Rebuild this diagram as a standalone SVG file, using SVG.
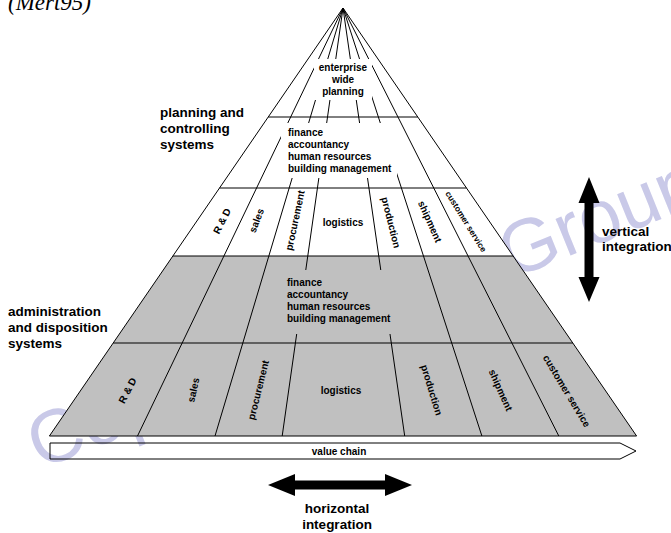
<svg xmlns="http://www.w3.org/2000/svg" width="671" height="533" viewBox="0 0 671 533">
<style>
.t{font-family:"Liberation Sans",Arial,sans-serif;font-weight:bold;fill:#000}
.f10{font-size:10px}
.f85{font-size:8.5px}
.big{font-size:13.5px}
.lbl{text-anchor:middle;dominant-baseline:central}
.ln{stroke:#000;stroke-width:1;fill:none}
.wm{font-family:"Liberation Sans",Arial,sans-serif;font-size:75px;fill:#c9c9e8}
</style>
<text class="wm" transform="translate(40,470) rotate(-22)">Copyright Idea Group Inc.</text>
<text x="8" y="10" style="font-family:'Liberation Serif','Times New Roman',serif;font-style:italic;font-size:23px">(Mert95)</text>

<g id="pyramid-fills">
<polygon points="343,8 172.9,256 513.1,256" fill="#fff"/>
<polygon points="172.9,256 513.1,256 636.6,436 49.4,436" fill="#c0c0c0"/>
</g>

<g id="connectors" class="ln">
<line x1="343" y1="8" x2="137.5" y2="436"/>
<line x1="343" y1="8" x2="215" y2="436"/>
<line x1="343" y1="8" x2="282.2" y2="436"/>
<line x1="343" y1="8" x2="404.7" y2="436"/>
<line x1="343" y1="8" x2="481.9" y2="436"/>
<line x1="343" y1="8" x2="558.8" y2="436"/>
<line x1="268.2" y1="117" x2="417.8" y2="117"/>
<line x1="219.5" y1="188" x2="466.5" y2="188"/>
<line x1="172.9" y1="256" x2="513.1" y2="256"/>
<line x1="113.2" y1="343" x2="572.8" y2="343"/>
<polygon points="343,8 49.4,436 636.6,436"/>
</g>

<g id="text-boxes">
<rect x="314" y="59" width="58" height="41" fill="#fff"/>
<rect x="281" y="123" width="116" height="55" fill="#fff"/>
<rect x="285" y="270" width="120" height="64" fill="#c0c0c0"/>
</g>

<g id="enterprise-wide-planning" class="t f10" text-anchor="middle">
<text x="343" y="71">enterprise</text>
<text x="343" y="83">wide</text>
<text x="343" y="95">planning</text>
</g>

<g id="planning-cross-functions" class="t f10">
<text x="288" y="136">finance</text>
<text x="288" y="148">accountancy</text>
<text x="288" y="160">human resources</text>
<text x="288" y="172">building management</text>
</g>

<g id="planning-functions" class="t f10 lbl">
<text class="lbl" transform="translate(222,221) rotate(-63)">R &amp; D</text>
<text class="lbl" transform="translate(256.5,220.5) rotate(-69)">sales</text>
<text class="lbl" transform="translate(295,220.5) rotate(-78)">procurement</text>
<text class="lbl" x="343" y="222">logistics</text>
<text class="lbl" transform="translate(391,222.5) rotate(76)">production</text>
<text class="lbl" transform="translate(430,221.5) rotate(66)">shipment</text>
<text class="lbl f85" transform="translate(466,221.5) rotate(58)">customer service</text>
</g>

<g id="admin-cross-functions" class="t f10">
<text x="287" y="286">finance</text>
<text x="287" y="298">accountancy</text>
<text x="287" y="310">human resources</text>
<text x="287" y="322">building management</text>
</g>

<g id="admin-functions" class="t f10">
<text class="lbl" transform="translate(127.5,390.5) rotate(-62)">R &amp; D</text>
<text class="lbl" transform="translate(193.3,390) rotate(-77)">sales</text>
<text class="lbl" transform="translate(258.3,390) rotate(-76)">procurement</text>
<text class="lbl" x="341" y="390">logistics</text>
<text class="lbl" transform="translate(431.7,390) rotate(73)">production</text>
<text class="lbl" transform="translate(500.7,390) rotate(66)">shipment</text>
<text class="lbl" transform="translate(566.7,391) rotate(59)">customer service</text>
</g>

<g id="planning-label" class="t big">
<text x="160" y="117">planning and</text>
<text x="160" y="133">controlling</text>
<text x="160" y="149">systems</text>
</g>

<g id="admin-label" class="t big">
<text x="8" y="316">administration</text>
<text x="8" y="332">and disposition</text>
<text x="8" y="348">systems</text>
</g>

<g id="value-chain">
<polygon class="ln" points="50,443 620,443 636,451 620,459 50,459"/>
<text class="t f10" x="339" y="454.5" text-anchor="middle">value chain</text>
</g>

<g id="vertical-integration">
<polygon points="589,177 599.5,203 593.5,203 593.5,277 599.5,277 589,302 578.5,277 584.5,277 584.5,203 578.5,203" fill="#000"/>
<text class="t big" x="602" y="236">vertical</text>
<text class="t big" x="602" y="251">integration</text>
</g>

<g id="horizontal-integration">
<polygon points="268,485 295,474 295,480.5 385,480.5 385,474 412,485 385,496 385,489.5 295,489.5 295,496" fill="#000"/>
<text class="t big" x="337" y="513" text-anchor="middle">horizontal</text>
<text class="t big" x="337" y="529" text-anchor="middle">integration</text>
</g>
</svg>
